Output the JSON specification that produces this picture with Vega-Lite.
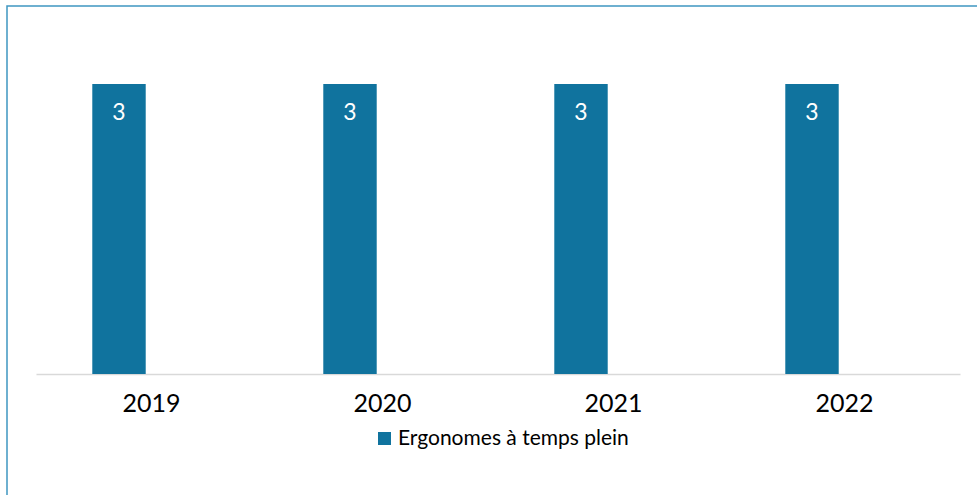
{
  "$schema": "https://vega.github.io/schema/vega-lite/v6.json",
  "width": 977,
  "height": 495,
  "autosize": {"type": "none"},
  "padding": {"left": 7, "top": 6, "right": 0, "bottom": 0},
  "background": "white",
  "config": {
    "view": {"stroke": "#3f97c1", "strokeWidth": 1.5},
    "font": "Lato"
  },
  "data": {
    "values": [
      {"annee": "2019", "serie": "Ergonomes à temps plein", "valeur": 3},
      {"annee": "2020", "serie": "Ergonomes à temps plein", "valeur": 3},
      {"annee": "2021", "serie": "Ergonomes à temps plein", "valeur": 3},
      {"annee": "2022", "serie": "Ergonomes à temps plein", "valeur": 3}
    ]
  },
  "encoding": {
    "x": {
      "field": "annee",
      "type": "nominal",
      "scale": {"range": [29, 953], "paddingInner": 0, "paddingOuter": 0},
      "axis": {
        "title": null,
        "labelAngle": 0,
        "ticks": false,
        "offset": -127,
        "domainColor": "#d9d9d9",
        "domainWidth": 1.5,
        "labelFont": "Lato",
        "labelFontSize": 25,
        "labelColor": "#000000",
        "labelPadding": 17,
        "grid": false
      }
    },
    "xOffset": {
      "field": "serie",
      "type": "nominal",
      "scale": {"domain": ["Ergonomes à temps plein", "_"], "paddingInner": 0.178, "paddingOuter": 0.866}
    },
    "y": {
      "field": "valeur",
      "type": "quantitative",
      "scale": {"domain": [0, 3], "range": [368, 78], "nice": false, "zero": true},
      "axis": null
    }
  },
  "layer": [
    {
      "mark": {"type": "bar", "cornerRadius": 0},
      "encoding": {
        "color": {
          "field": "serie",
          "type": "nominal",
          "scale": {"domain": ["Ergonomes à temps plein"], "range": ["#10739e"]},
          "legend": {
            "title": null,
            "orient": "none",
            "legendX": 367,
            "legendY": 422,
            "padding": 0,
            "symbolType": "square",
            "symbolSize": 169,
            "symbolStrokeWidth": 0,
            "labelFont": "Lato",
            "labelFontSize": 21,
            "labelColor": "#000000",
            "labelOffset": 3,
            "labelLimit": 500
          }
        }
      }
    },
    {
      "mark": {"type": "text", "color": "white", "fontSize": 23, "font": "Lato", "baseline": "middle", "dy": 29},
      "encoding": {"text": {"field": "valeur", "type": "quantitative"}}
    }
  ]
}
